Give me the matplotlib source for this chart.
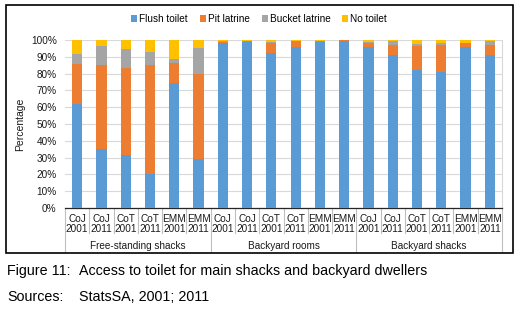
import numpy as np
import matplotlib
matplotlib.use("Agg")
import matplotlib.pyplot as plt
from matplotlib.patches import Rectangle
from matplotlib.ticker import PercentFormatter

plt.rcParams["font.family"] = ["Liberation Sans", "DejaVu Sans"]

# datos (porcentajes)
cities = ["CoJ", "CoJ", "CoT", "CoT", "EMM", "EMM"] * 3
years = ["2001", "2011"] * 9
groups = ["Free-standing shacks", "Backyard rooms", "Backyard shacks"]

flush = [62, 35, 31.5, 20.5, 74.5, 29,
         98.3, 98.8, 92.5, 95.8, 98.8, 99.6,
         95.8, 90.8, 82, 80.8, 95.8, 91.2]
pit = [24, 50, 52, 64.5, 12, 51,
       0.5, 0.5, 5.9, 3.4, 0.7, 0.3,
       2.6, 6.2, 14.4, 16.2, 2.2, 5.8]
bucket = [5.5, 11.5, 11, 8, 2, 15,
          0.5, 0.4, 0.3, 0.3, 0.2, 0.0,
          0.4, 2.4, 1.4, 1.2, 0.5, 2.4]
no_toilet = [8.5, 3.5, 5.5, 7, 11.5, 5,
             0.7, 0.3, 1.3, 0.5, 0.3, 0.1,
             1.2, 0.6, 2.2, 1.8, 1.5, 0.6]

series = [("Flush toilet", flush, "#5B9BD5"),
          ("Pit latrine", pit, "#ED7D31"),
          ("Bucket latrine", bucket, "#A5A5A5"),
          ("No toilet", no_toilet, "#FFC000")]

W, H = 520, 314
fig = plt.figure(figsize=(W / 100, H / 100), dpi=100)
ax = fig.add_axes([65 / W, 1 - 208 / H, (502 - 65) / W, (208 - 40) / H])

x = np.arange(len(cities))
bottom = np.zeros(len(cities))
for name, vals, col in series:
    v = np.array(vals) / 100
    ax.bar(x, v, bottom=bottom, width=0.42, color=col, label=name, zorder=3)
    bottom += v

ax.set_xlim(-0.5, len(cities) - 0.5)
ax.set_ylim(0, 1)
ax.set_yticks(np.arange(0, 1.01, 0.1))
ax.yaxis.set_major_formatter(PercentFormatter(1, decimals=0))
ax.grid(axis="y", color="#D9D9D9", lw=0.8, zorder=0)
ax.set_xticks(x)
ax.set_xticklabels([f"{c}\n{y}" for c, y in zip(cities, years)], linespacing=1.1)
ax.tick_params(axis="both", length=0, labelsize=7.2, colors="#1a1a1a")
ax.tick_params(axis="x", pad=4)
ax.tick_params(axis="y", pad=6)

for s in ["top", "left"]:
    ax.spines[s].set_visible(False)
ax.spines["right"].set_color("#D9D9D9")
ax.spines["bottom"].set_color("#262626")
ax.spines["bottom"].set_linewidth(0.9)

# separadores del eje de categorías
trans = ax.get_xaxis_transform()
ax_h = 208 - 40
for k in range(len(cities) + 1):
    depth = 44 / ax_h if k % 6 == 0 else 25 / ax_h
    ax.plot([k - 0.5, k - 0.5], [0, -depth], color="#BFBFBF", lw=0.8,
            transform=trans, clip_on=False)
for i, g in enumerate(groups):
    ax.text(i * 6 + 2.5, -38 / ax_h, g, transform=trans, ha="center",
            va="center", fontsize=7.2, color="#1a1a1a")

fig.text(20 / W, 1 - 124 / H, "Percentage", rotation=90, ha="center",
         va="center", fontsize=7.5, color="#1a1a1a")

fig.legend(loc="center", bbox_to_anchor=(259 / W, 1 - 19 / H), ncol=4,
           frameon=False, fontsize=7.2, handlelength=0.6, handleheight=0.6,
           handletextpad=0.2, columnspacing=1.2, borderaxespad=0)

fig.patches.append(Rectangle((6 / W, 1 - 253 / H), 507 / W, 248 / H,
                             transform=fig.transFigure, fill=False,
                             edgecolor="black", lw=1.2))

fig.text(7 / W, 1 - 271 / H, "Figure 11:", va="center", fontsize=10.3)
fig.text(79 / W, 1 - 271 / H, "Access to toilet for main shacks and backyard dwellers",
         va="center", fontsize=10.3)
fig.text(7 / W, 1 - 297 / H, "Sources:", va="center", fontsize=10.3)
fig.text(79 / W, 1 - 297 / H, "StatsSA, 2001; 2011", va="center", fontsize=10.3)

fig.savefig("out.png", dpi=100)
